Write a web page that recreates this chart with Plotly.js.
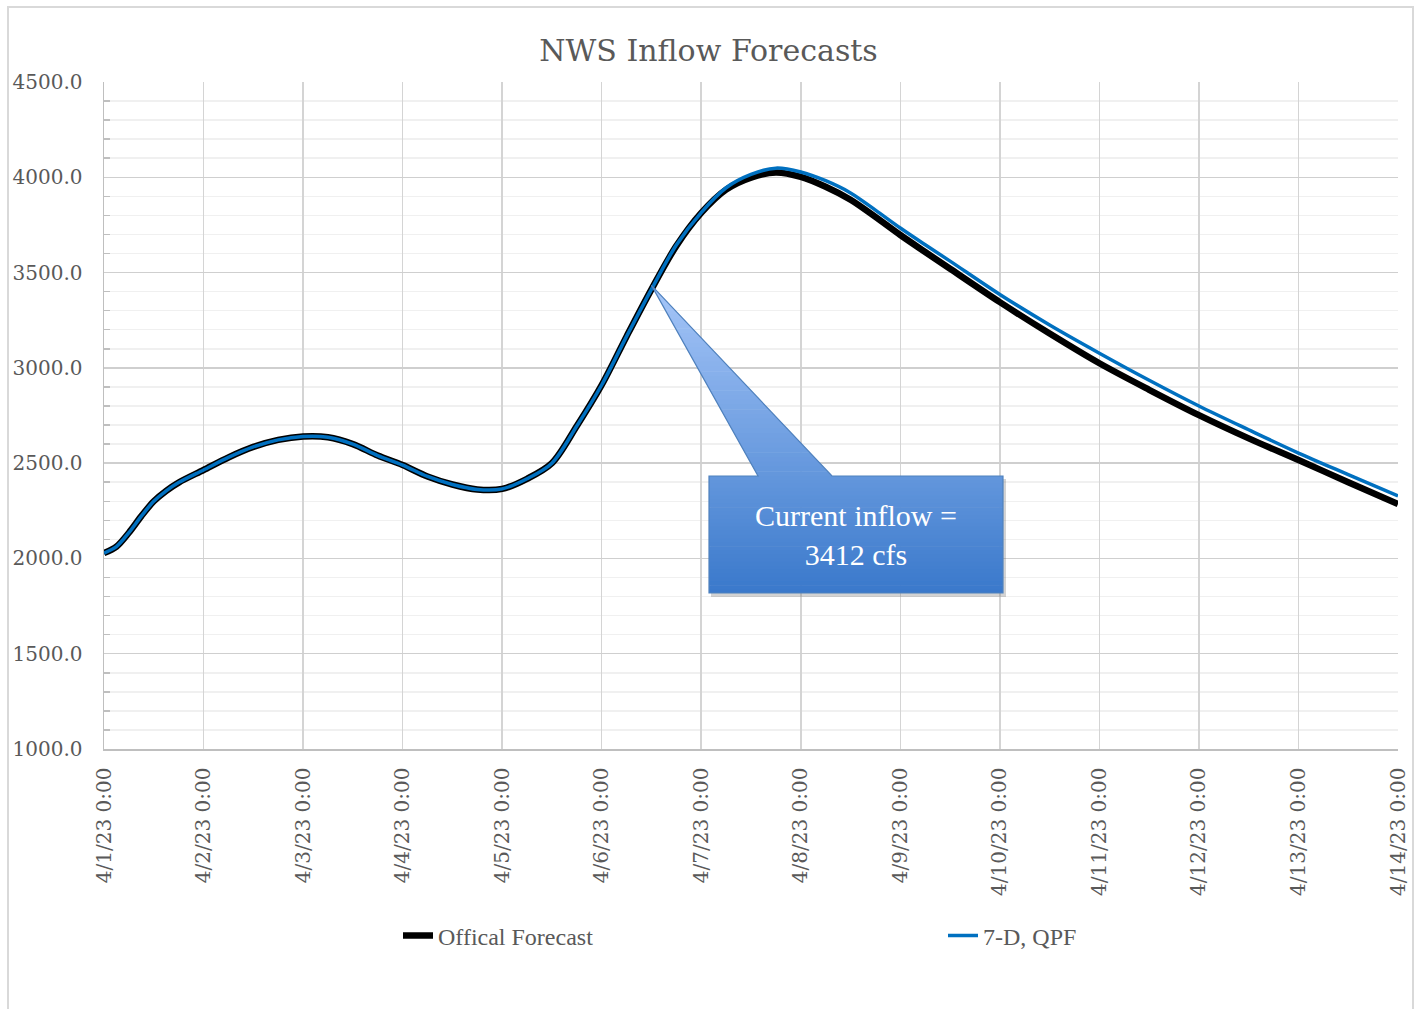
<!DOCTYPE html>
<html>
<head>
<meta charset="utf-8">
<script src="https://cdn.plot.ly/plotly-3.0.1.min.js"></script>
<style>html,body{margin:0;padding:0;background:#fff;}#chart{width:1417px;height:1009px;}</style>
</head>
<body>
<div id="chart"></div>
<script>
// ---- data ----
const observedTimes = [
  "2023-04-01 00:00","2023-04-01 03:00","2023-04-01 06:00","2023-04-01 09:00","2023-04-01 12:00",
  "2023-04-01 15:00","2023-04-01 18:00","2023-04-02 00:00","2023-04-02 06:00","2023-04-02 12:00",
  "2023-04-02 18:00","2023-04-03 00:00","2023-04-03 06:00","2023-04-03 12:00","2023-04-03 18:00",
  "2023-04-04 00:00","2023-04-04 06:00","2023-04-04 12:00","2023-04-04 18:00","2023-04-05 00:00",
  "2023-04-05 06:00","2023-04-05 12:00","2023-04-05 18:00","2023-04-06 00:00","2023-04-06 06:00",
  "2023-04-06 12:00"];
const observedFlow = [
  2028, 2062, 2135, 2222, 2300,
  2355, 2398, 2464, 2530, 2585,
  2622, 2640, 2636, 2600, 2540,
  2490, 2430, 2388, 2362, 2365,
  2418, 2500, 2695, 2910, 3165,
  3412];
const forecastTimes = [
  "2023-04-06 18:00","2023-04-07 00:00","2023-04-07 06:00","2023-04-07 12:00","2023-04-07 18:00",
  "2023-04-08 00:00","2023-04-08 06:00","2023-04-08 12:00","2023-04-08 18:00","2023-04-09 00:00",
  "2023-04-09 06:00","2023-04-09 12:00","2023-04-10 00:00","2023-04-10 12:00","2023-04-11 00:00",
  "2023-04-11 12:00","2023-04-12 00:00","2023-04-12 12:00","2023-04-13 00:00","2023-04-13 12:00",
  "2023-04-14 00:00"];
const officialForecast = [
  3640, 3813, 3935, 3998, 4025,
  4002, 3950, 3882, 3792, 3697,
  3608, 3520, 3345, 3180, 3024,
  2885, 2752, 2630, 2516, 2400,
  2285];
const qpfForecast = [
  3645, 3815, 3945, 4015, 4048,
  4028, 3982, 3918, 3828, 3734,
  3646, 3560, 3385, 3225, 3077,
  2935, 2800, 2675, 2553, 2440,
  2328];
const tickVals = ["2023-04-01","2023-04-02","2023-04-03","2023-04-04","2023-04-05","2023-04-06","2023-04-07",
  "2023-04-08","2023-04-09","2023-04-10","2023-04-11","2023-04-12","2023-04-13","2023-04-14"];
const tickText = ["4/1/23 0:00","4/2/23 0:00","4/3/23 0:00","4/4/23 0:00","4/5/23 0:00","4/6/23 0:00","4/7/23 0:00",
  "4/8/23 0:00","4/9/23 0:00","4/10/23 0:00","4/11/23 0:00","4/12/23 0:00","4/13/23 0:00","4/14/23 0:00"];
const currentTime = "2023-04-06 12:00";
const currentInflow = 3412;
const seriesNames = ["Offical Forecast", "7-D, QPF"];

// ---- layout geometry ----
const W = 1417, H = 1009;
const M = {l: 104, r: 19, t: 82, b: 260};
const PW = W - M.l - M.r, PH = H - M.t - M.b;
const xStart = tickVals[0], xEnd = tickVals[tickVals.length - 1];
const yMin = 1000, yMax = 4500;
const px2paperX = p => (p - M.l) / PW;
const py2paperY = p => (H - M.b - p) / PH;
const tMs = s => new Date(s.replace(" ", "T") + ":00Z").getTime();
const dataPx = (t, v) => [M.l + (tMs(t) - tMs(xStart + " 00:00")) / (tMs(xEnd + " 00:00") - tMs(xStart + " 00:00")) * PW,
                          H - M.b - (v - yMin) / (yMax - yMin) * PH];

const officialX = observedTimes.concat(forecastTimes);
const officialY = observedFlow.concat(officialForecast);
const qpfX = observedTimes.concat(forecastTimes);
const qpfY = observedFlow.concat(qpfForecast);

const traces = [
  {x: officialX, y: officialY, name: seriesNames[0], type: "scatter", mode: "lines", legend: "legend",
   line: {color: "#000000", width: 6.5, shape: "spline", smoothing: 0.9}},
  {x: qpfX, y: qpfY, name: seriesNames[1], type: "scatter", mode: "lines", legend: "legend2",
   line: {color: "#0070C0", width: 3.5, shape: "spline", smoothing: 0.9}}
];

// ---- callout shapes ----
const shapes = [];
// outer chart border
shapes.push({type: "rect", xref: "paper", yref: "paper", layer: "below",
  x0: px2paperX(8), x1: px2paperX(1413), y0: py2paperY(1015), y1: py2paperY(7),
  line: {color: "#d9d9d9", width: 2}, fillcolor: "rgba(0,0,0,0)"});

const tip = dataPx(currentTime, currentInflow);
const box = {x0: 709, x1: 1003, y0: 476, y1: 593};
const baseL = 758, baseR = 832;
const topY = tip[1] - 4;
const c0 = [166, 198, 248], c1 = [58, 121, 203];
const colAt = y => {
  const f = Math.min(1, Math.max(0, (y - topY) / (box.y1 - topY)));
  const c = c0.map((v, i) => Math.round(v + (c1[i] - v) * f));
  return `rgb(${c[0]},${c[1]},${c[2]})`;
};
const P = (x, y) => px2paperX(x).toFixed(5) + "," + py2paperY(y).toFixed(5);
// shadow
shapes.push({type: "rect", xref: "paper", yref: "paper",
  x0: px2paperX(box.x0 + 2), x1: px2paperX(box.x1 + 3), y0: py2paperY(box.y1 + 4), y1: py2paperY(box.y0 + 3),
  fillcolor: "rgba(110,110,110,0.30)", line: {width: 0}});
// triangle bands
const edgeX = (y, bx) => tip[0] + (bx - tip[0]) * (y - topY) / (box.y0 - topY);
const nTri = 40;
for (let i = 0; i < nTri; i++) {
  const ya = topY + (box.y0 - topY) * i / nTri;
  const yb = topY + (box.y0 - topY) * (i + 1) / nTri + 0.6;
  const ybc = Math.min(yb, box.y0 + 0.6);
  const path = "M" + P(edgeX(ya, baseL), ya) + " L" + P(edgeX(ya, baseR), ya) +
               " L" + P(edgeX(ybc, baseR), ybc) + " L" + P(edgeX(ybc, baseL), ybc) + " Z";
  shapes.push({type: "path", xref: "paper", yref: "paper", path: path,
    fillcolor: colAt((ya + yb) / 2), line: {width: 0}});
}
// box bands
const nBox = 30;
for (let i = 0; i < nBox; i++) {
  const ya = box.y0 + (box.y1 - box.y0) * i / nBox;
  const yb = Math.min(box.y1, box.y0 + (box.y1 - box.y0) * (i + 1) / nBox + 0.6);
  shapes.push({type: "rect", xref: "paper", yref: "paper",
    x0: px2paperX(box.x0), x1: px2paperX(box.x1), y0: py2paperY(yb), y1: py2paperY(ya),
    fillcolor: colAt((ya + yb) / 2), line: {width: 0}});
}
// outline
shapes.push({type: "path", xref: "paper", yref: "paper",
  path: "M" + P(tip[0], topY) + " L" + P(baseR, box.y0) + " L" + P(box.x1, box.y0) + " L" + P(box.x1, box.y1) +
        " L" + P(box.x0, box.y1) + " L" + P(box.x0, box.y0) + " L" + P(baseL, box.y0) + " Z",
  line: {color: "#4f81bd", width: 1.2}, fillcolor: "rgba(0,0,0,0)"});

const legendFont = {family: "Liberation Serif, serif", size: 24, color: "#595959"};
const layout = {
  width: W, height: H,
  margin: M,
  paper_bgcolor: "#ffffff", plot_bgcolor: "#ffffff",
  font: {family: "DejaVu Serif, serif", color: "#595959"},
  title: {text: "NWS Inflow Forecasts", x: 0.5, xref: "container", xanchor: "center",
          y: 1 - 50 / H, yref: "container", yanchor: "middle",
          font: {family: "DejaVu Serif, serif", size: 30, color: "#595959"}},
  xaxis: {type: "date", range: [xStart, xEnd], tickvals: tickVals, ticktext: tickText,
          tickangle: -90, tickfont: {family: "DejaVu Serif, serif", size: 20, color: "#595959"},
          showgrid: true, gridcolor: "#d4d4d4", gridwidth: 1.5,
          showline: true, linecolor: "#bfbfbf", linewidth: 1.5, ticks: "", ticklabelstandoff: 9,
          zeroline: false, fixedrange: true},
  yaxis: {range: [yMin, yMax], dtick: 500, tick0: 1000, tickformat: ".1f",
          tickfont: {family: "DejaVu Serif, serif", size: 20, color: "#595959"},
          showgrid: true, gridcolor: "#cfcfcf", gridwidth: 1.5,
          showline: true, linecolor: "#bfbfbf", linewidth: 1.5, ticks: "", ticklabelstandoff: 16,
          zeroline: false,
          minor: {dtick: 100, showgrid: true, gridcolor: "#f0f0f0", gridwidth: 1.5,
                  ticks: "inside", ticklen: 6, tickcolor: "#bfbfbf", tickwidth: 1.5},
          fixedrange: true},
  showlegend: true,
  legend: {orientation: "h", x: px2paperX(398), xanchor: "left", y: py2paperY(936), yanchor: "middle",
           bgcolor: "rgba(0,0,0,0)", font: legendFont},
  legend2: {orientation: "h", x: px2paperX(943), xanchor: "left", y: py2paperY(936), yanchor: "middle",
           bgcolor: "rgba(0,0,0,0)", font: legendFont},
  shapes: shapes,
  annotations: [
    {xref: "paper", yref: "paper", x: px2paperX(856), y: py2paperY(535), xanchor: "center", yanchor: "middle",
     text: "Current inflow =<br>" + currentInflow + " cfs", showarrow: false, align: "center",
     font: {family: "Liberation Serif, serif", size: 30, color: "#ffffff"}}
  ]
};

Plotly.newPlot("chart", traces, layout, {displayModeBar: false, staticPlot: true});
</script>
</body>
</html>
